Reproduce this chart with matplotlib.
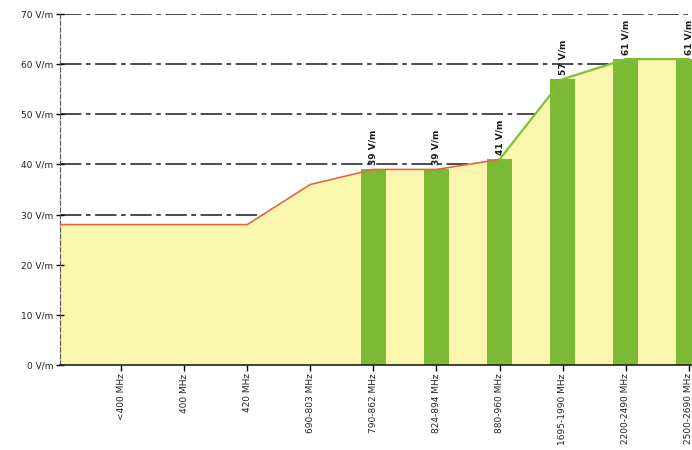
import numpy as np
import matplotlib
matplotlib.use("Agg")
import matplotlib.pyplot as plt

bands = ["<400 MHz", "400 MHz", "420 MHz", "690-803 MHz", "790-862 MHz",
         "824-894 MHz", "880-960 MHz", "1695-1990 MHz", "2200-2490 MHz",
         "2500-2690 MHz"]
limit = [28, 28, 28, 36, 39, 39, 41, 57, 61, 61]
bar_bands = ["790-862 MHz", "824-894 MHz", "880-960 MHz", "1695-1990 MHz",
             "2200-2490 MHz", "2500-2690 MHz"]
bar_values = [39, 39, 41, 57, 61, 61]
yticks = [0, 10, 20, 30, 40, 50, 60, 70]

yellow = "#fbf6ae"
green = "#7dba34"
red = "#dc6a48"

x = np.arange(1, len(bands) + 1)
x_ext = np.concatenate([[x[0] - 1], x])
y_ext = np.concatenate([[limit[0]], limit])
split = bands.index("880-960 MHz")

fig = plt.figure(figsize=(6.92, 4.5), dpi=100)
ax = fig.add_axes([60 / 692, 1 - 365 / 450, 1 - 60 / 692, 351 / 450])

# grid behind everything
for v in yticks[1:]:
    ax.axhline(v, color="#1a1a1a", lw=1.1, ls=(0, (14, 3, 3, 3)), zorder=0)

ax.fill_between(x_ext, 0, y_ext, color=yellow, lw=0, zorder=1)

bx = [bands.index(b) + 1 for b in bar_bands]
ax.bar(bx, bar_values, width=0.4, color=green, lw=0, zorder=2)

ax.plot(x_ext[:split + 2], y_ext[:split + 2], color=red, lw=1.2, zorder=3)
ax.plot(x_ext[split + 1:], y_ext[split + 1:], color="#7fbf3a", lw=1.6, zorder=3)

for xi, v in zip(bx, bar_values):
    ax.text(xi, v + 0.8, f"{v} V/m", rotation=90, ha="center", va="bottom",
            fontsize=6.5, fontweight="bold", color="#1a1a1a", zorder=4)

ax.set_xlim(0.033, 10.05)
ax.set_ylim(0, 70)
ax.set_xticks(x)
ax.set_xticklabels(bands, rotation=90, fontsize=6.5, color="#222222")
ax.set_yticks(yticks)
ax.set_yticklabels([f"{v} V/m" for v in yticks], fontsize=6.5, color="#222222")
ax.tick_params(axis="y", direction="inout", length=6, width=1, pad=2)
ax.tick_params(axis="x", direction="out", length=4, width=1, pad=2)

ax.spines["top"].set_visible(False)
ax.spines["right"].set_visible(False)
ax.spines["left"].set_linestyle((0, (4, 2)))
ax.spines["left"].set_color("#555555")
ax.spines["bottom"].set_color("#222222")
ax.spines["bottom"].set_linewidth(1.2)

fig.savefig("out.png", dpi=100)
